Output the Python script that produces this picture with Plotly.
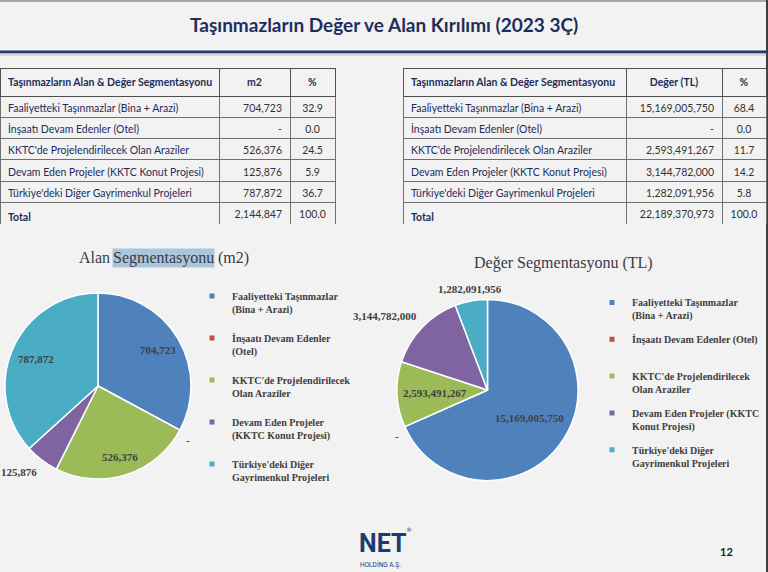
import math
import plotly.graph_objects as go

W, H = 768, 572

# ---------------- data ----------------
categories = [
    "Faaliyetteki Taşınmazlar (Bina + Arazi)",
    "İnşaatı Devam Edenler (Otel)",
    "KKTC'de Projelendirilecek Olan Araziler",
    "Devam Eden Projeler (KKTC Konut Projesi)",
    "Türkiye'deki Diğer Gayrimenkul Projeleri",
]
legend_area = [
    "Faaliyetteki Taşınmazlar<br>(Bina + Arazi)",
    "İnşaatı Devam Edenler<br>(Otel)",
    "KKTC'de Projelendirilecek<br>Olan Araziler",
    "Devam Eden Projeler<br>(KKTC Konut Projesi)",
    "Türkiye'deki Diğer<br>Gayrimenkul Projeleri",
]
legend_value = [
    "Faaliyetteki Taşınmazlar<br>(Bina + Arazi)",
    "İnşaatı Devam Edenler (Otel)<br>\u00a0",
    "KKTC'de Projelendirilecek<br>Olan Araziler",
    "Devam Eden Projeler (KKTC<br>Konut Projesi)",
    "Türkiye'deki Diğer<br>Gayrimenkul Projeleri",
]
table_title = "Taşınmazların Alan & Değer Segmentasyonu"
area_m2 = [704723, 0, 526376, 125876, 787872]
area_pct = [32.9, 0.0, 24.5, 5.9, 36.7]
value_tl = [15169005750, 0, 2593491267, 3144782000, 1282091956]
value_pct = [68.4, 0.0, 11.7, 14.2, 5.8]
total_pct = 100.0
colors = ["#4F81BD", "#C0504D", "#9BBB59", "#8064A2", "#4BACC6"]

# label placement style (radial factor, inside/outside)
area_label_r = [0.75, 1.05, 0.80, 1.05, 0.73]
area_label_mode = ["in", "out", "in", "out", "in"]
value_label_r = [0.56, 1.05, 0.58, 1.05, 1.05]
value_label_mode = ["in", "out", "in", "out", "out"]

NAVY = "#1F2D5A"
GREY_TXT = "#404040"
TBL_FONT = "Lato"
SERIF = "Liberation Serif"


def fx(x):
    return x / W


def fy(y):
    return 1 - y / H


def fmt(v):
    return f"{v:,}" if v else "-"


def nb(s):
    return s.replace(" ", "\u00a0")


fig = go.Figure()


# ---------------- tables ----------------
def add_table(x0, x1, y0, y1, widths, col_title, values, pcts):
    labels = [nb(c) for c in categories] + ["<b>Total</b>"]
    nums = [fmt(v) for v in values] + [fmt(sum(values))]
    pc = [f"{p:.1f}" for p in pcts] + [f"{total_pct:.1f}"]
    fig.add_trace(go.Table(
        domain=dict(x=[fx(x0), fx(x1)], y=[fy(y1), fy(y0)]),
        columnwidth=widths,
        header=dict(
            values=[f"<b>{nb(table_title)}</b>", f"<b>{nb(col_title)}</b>", "<b>%</b>"],
            height=14,
            align=["left", "center", "center"],
            font=dict(family=TBL_FONT, size=10.5, color=NAVY),
            fill_color="rgba(0,0,0,0)",
            line=dict(color="#505050", width=1),
        ),
        cells=dict(
            values=[labels, nums, pc],
            height=21.3,
            align=["left", "right", "center"],
            font=dict(family=TBL_FONT, size=10.5, color=[NAVY, "#333333", "#333333"]),
            fill_color="rgba(0,0,0,0)",
            line=dict(color="#707070", width=1),
        ),
    ))


add_table(0, 335, 68, 224, [219, 71, 45], "m2", area_m2, area_pct)
add_table(403, 766, 68, 224, [223, 96, 44], "Değer (TL)", value_tl, value_pct)

# ---------------- pies ----------------
annotations = []


def add_pie(values, cx, cy, R, rfs, modes):
    fig.add_trace(go.Pie(
        values=values, labels=categories, sort=False, direction="clockwise",
        rotation=0, textinfo="none", hoverinfo="label+value+percent",
        marker=dict(colors=colors, line=dict(color="white", width=1.5)),
        domain=dict(x=[fx(cx - R), fx(cx + R)], y=[fy(cy + R), fy(cy - R)]),
        showlegend=False,
    ))
    total = sum(values)
    cum = 0
    for v, rf, mode in zip(values, rfs, modes):
        mid = (cum + v / 2) / total * 2 * math.pi
        cum += v
        s, c = math.sin(mid), math.cos(mid)
        x = cx + rf * R * s
        y = cy - rf * R * c
        if mode == "in":
            xa, ya = "center", "middle"
        else:
            xa = "left" if s > 0.3 else ("right" if s < -0.3 else "center")
            ya = "bottom" if c > 0.1 else ("top" if c < -0.1 else "middle")
        annotations.append(dict(
            x=fx(x), y=fy(y), xref="paper", yref="paper", showarrow=False,
            xanchor=xa, yanchor=ya, text=f"<b>{fmt(v)}</b>",
            font=dict(family=SERIF, size=11, color=GREY_TXT),
        ))


add_pie(area_m2, 98, 386, 93, area_label_r, area_label_mode)
add_pie(value_tl, 487.5, 390, 90.5, value_label_r, value_label_mode)

# ---------------- legends (legend-only traces) ----------------
for i, (lab, col) in enumerate(zip(legend_area, colors)):
    fig.add_trace(go.Scatter(
        x=[None], y=[None], mode="markers", name=lab,
        marker=dict(symbol="square", size=5, color=col),
        legend="legend", legendgroup=f"a{i}", hoverinfo="skip"))
for i, (lab, col) in enumerate(zip(legend_value, colors)):
    fig.add_trace(go.Scatter(
        x=[None], y=[None], mode="markers", name=lab,
        marker=dict(symbol="square", size=5, color=col),
        legend="legend2", legendgroup=f"b{i}", hoverinfo="skip"))

legend_style = dict(
    xanchor="left", yanchor="top", bgcolor="rgba(0,0,0,0)",
    font=dict(family=SERIF, size=10, color=GREY_TXT, weight="bold"),
    valign="top", itemclick=False, itemdoubleclick=False,
)
fig.update_layout(
    legend=dict(x=fx(192), y=fy(283), tracegroupgap=13, **legend_style),
    legend2=dict(x=fx(592), y=fy(289.5), tracegroupgap=7.8, **legend_style),
)

# ---------------- texts ----------------
annotations += [
    dict(x=fx(384), y=fy(24.5), text="<b>Taşınmazların Değer ve Alan Kırılımı (2023 3Ç)</b>",
         font=dict(family="Lato", size=19, color=NAVY)),
    dict(x=fx(112), y=fy(257.5), xanchor="right", text="Alan",
         font=dict(family=SERIF, size=16, color="#3a3a46")),
    dict(x=fx(163.5), y=fy(257.5), text="Segmentasyonu", bgcolor="#a9c6dc", borderpad=0,
         font=dict(family=SERIF, size=16, color="#3a3a46")),
    dict(x=fx(216), y=fy(257.5), xanchor="left", text="(m2)",
         font=dict(family=SERIF, size=16, color="#3a3a46")),
    dict(x=fx(563), y=fy(263), text="Değer Segmentasyonu (TL)",
         font=dict(family=SERIF, size=16, color="#3a3a46")),
    dict(x=fx(357), y=fy(543), xanchor="left", text="<b>NET</b>",
         font=dict(family="Roboto", size=25, color="#1E3A6E", weight=900)),
    dict(x=fx(404), y=fy(529), xanchor="left", text="®",
         font=dict(family="DejaVu Sans", size=6, color="#1E3A6E")),
    dict(x=fx(358), y=fy(564.5), xanchor="left", text="HOLDİNG A.Ş.",
         font=dict(family="Roboto", size=6.5, color="#1E3A6E")),
    dict(x=fx(726), y=fy(551), text="<b>12</b>",
         font=dict(family="Lato", size=11, color="#1a1a2a")),
]
for a in annotations:
    a.setdefault("xref", "paper")
    a.setdefault("yref", "paper")
    a.setdefault("showarrow", False)
    a.setdefault("xanchor", "center")
    a.setdefault("yanchor", "middle")

shapes = [
    dict(type="rect", x0=0, x1=fx(768), y0=fy(2), y1=fy(0), fillcolor="#a8a8a8", line_width=0),
    dict(type="rect", x0=0, x1=fx(766), y0=fy(53.5), y1=fy(50.5), fillcolor="#253a66", line_width=0),
    dict(type="rect", x0=0, x1=fx(766), y0=fy(56), y1=fy(53.5), fillcolor="#d6d6d6", line_width=0),
    dict(type="rect", x0=fx(766), x1=fx(768), y0=0, y1=1, fillcolor="#3d3d3d", line_width=0),
]
for s in shapes:
    s["xref"] = "paper"
    s["yref"] = "paper"
    s["layer"] = "below"

fig.update_layout(
    width=W, height=H, margin=dict(l=0, r=0, t=0, b=0),
    paper_bgcolor="#f2f2f2", plot_bgcolor="rgba(0,0,0,0)",
    xaxis=dict(visible=False), yaxis=dict(visible=False),
    annotations=annotations, shapes=shapes,
)

fig.write_html("out.html")
